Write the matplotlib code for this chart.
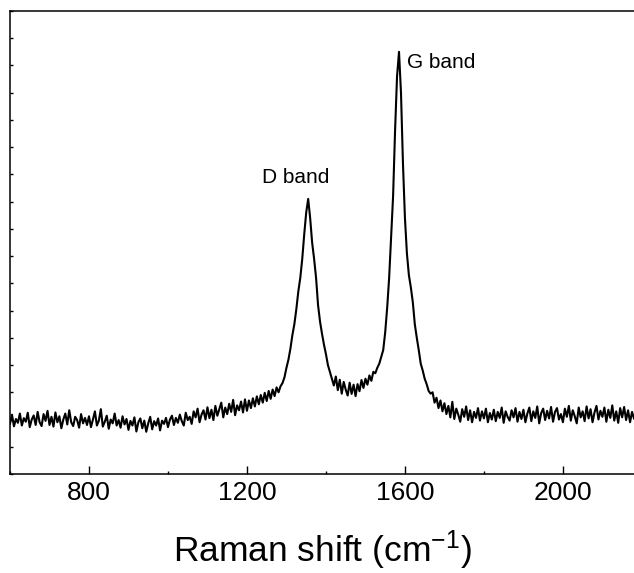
import numpy as np
import matplotlib
matplotlib.use("Agg")
import matplotlib.pyplot as plt
from matplotlib.ticker import MultipleLocator, NullFormatter

plt.rcParams["font.family"] = ["Liberation Sans", "DejaVu Sans"]
plt.rcParams["mathtext.fontset"] = "custom"
plt.rcParams["mathtext.rm"] = "Liberation Sans"
plt.rcParams["mathtext.it"] = "Liberation Sans:italic"

# Raman shift grid (cm^-1), one reading every 5 cm^-1
shift = np.arange(600, 2181, 5)

# Intensity (arb. units), one row per 100 cm^-1
intensity = [
    # 600
    1.85, 2.18, 1.75, 2.02, 1.88, 2.22, 1.78, 2.05, 1.92, 2.25,
    1.72, 2.00, 2.15, 1.80, 2.28, 1.90, 1.76, 2.20, 1.95, 2.32,
    # 700
    1.80, 2.10, 1.74, 2.26, 1.90, 2.12, 1.68, 2.00, 2.22, 1.82,
    2.34, 1.90, 1.76, 2.10, 1.98, 1.70, 2.20, 1.86, 2.06, 1.80,
    # 800
    2.12, 1.72, 2.00, 2.30, 1.78, 1.96, 2.38, 1.74, 1.92, 2.14,
    1.66, 2.00, 1.86, 2.22, 1.78, 1.98, 1.70, 2.12, 1.82, 2.02,
    # 900
    1.62, 1.95, 1.78, 2.08, 1.56, 1.90, 2.04, 1.68, 1.96, 1.55,
    1.86, 2.10, 1.64, 1.94, 1.78, 2.04, 1.60, 1.96, 1.84, 2.06,
    # 1000
    1.72, 2.00, 2.14, 1.80, 2.06, 1.88, 2.18, 1.94, 1.78, 2.25,
    1.98, 2.10, 1.84, 2.30, 2.08, 2.40, 1.90, 2.18, 2.34, 2.00,
    # 1100
    2.45, 2.05, 2.36, 1.98, 2.50, 2.14, 2.38, 2.62, 2.08, 2.44,
    2.20, 2.58, 2.28, 2.72, 2.16, 2.52, 2.34, 2.66, 2.26, 2.74,
    # 1200
    2.32, 2.70, 2.42, 2.78, 2.48, 2.85, 2.56, 2.90, 2.62, 2.98,
    2.68, 3.05, 2.76, 3.10, 2.86, 3.18, 3.00, 3.22, 3.34, 3.55,
    # 1300 - D band
    3.90, 4.20, 4.60, 5.10, 5.50, 6.05, 6.70, 7.20, 7.90, 8.80,
    9.60, 10.10, 9.40, 8.50, 7.90, 7.20, 6.20, 5.60, 5.15, 4.75,
    # 1400
    4.40, 4.00, 3.75, 3.50, 3.25, 3.58, 3.08, 3.46, 2.95, 3.38,
    3.10, 2.88, 3.35, 2.94, 3.28, 2.86, 3.30, 3.04, 3.45, 3.16,
    # 1500 - G band
    3.50, 3.28, 3.62, 3.42, 3.75, 3.70, 3.90, 4.05, 4.30, 4.55,
    5.20, 6.10, 7.20, 8.70, 10.20, 12.60, 14.60, 15.50, 14.00, 11.40,
    # 1600
    9.40, 8.10, 7.30, 6.85, 6.30, 5.50, 5.00, 4.55, 4.05, 3.80,
    3.50, 3.30, 3.05, 2.95, 3.00, 2.62, 2.80, 2.42, 2.70, 2.30,
    # 1700
    2.60, 2.20, 2.50, 2.08, 2.65, 2.02, 2.40, 2.18, 1.92, 2.38,
    2.10, 2.48, 1.98, 2.34, 1.90, 2.28, 2.06, 2.42, 1.96, 2.30,
    # 1800
    2.04, 2.40, 1.90, 2.24, 2.00, 2.36, 1.94, 2.28, 2.06, 2.44,
    1.88, 2.30, 2.10, 1.96, 2.34, 2.08, 2.42, 1.92, 2.28, 2.02,
    # 1900
    2.36, 1.90, 2.22, 2.44, 1.94, 2.30, 2.06, 2.48, 1.86, 2.24,
    2.40, 1.98, 2.32, 2.04, 2.46, 1.92, 2.28, 2.42, 2.00, 2.20,
    # 2000
    1.90, 2.40, 2.10, 2.50, 1.96, 2.34, 2.12, 1.86, 2.44, 2.08,
    2.30, 1.94, 2.48, 2.04, 2.38, 1.90, 2.26, 2.50, 2.00, 2.32,
    # 2100
    2.10, 2.44, 1.92, 2.36, 2.06, 2.52, 1.96, 2.30, 1.88, 2.42,
    2.08, 2.46, 1.98, 2.34, 1.90, 2.28, 2.04,
]

band_names = ["D band", "G band"]
band_label_x = [1324, 1605]
band_label_y = [10.9, 15.1]

fig = plt.figure(figsize=(6.34, 5.73), dpi=100)
ax = fig.add_axes([10 / 634, 99 / 573, 624 / 634, 463 / 573])

ax.plot(shift, intensity, color="black", lw=1.5)

ax.set_xlim(600, 2180)
ax.set_ylim(0, 17)

ax.xaxis.set_major_locator(MultipleLocator(400))
ax.xaxis.set_minor_locator(MultipleLocator(200))
ax.yaxis.set_major_locator(MultipleLocator(1))
ax.yaxis.set_major_formatter(NullFormatter())

ax.tick_params(axis="x", which="major", direction="in", length=6, width=1.0,
               labelsize=19, pad=5)
ax.tick_params(axis="x", which="minor", direction="in", length=2.5, width=1.0)
ax.tick_params(axis="y", which="major", direction="in", length=2.5, width=1.0)

ax.spines["right"].set_visible(False)
for side in ("left", "top", "bottom"):
    ax.spines[side].set_linewidth(1.1)

ax.set_xlabel("Raman shift (cm$^{-1}$)", fontsize=25.5, labelpad=17)

ax.text(band_label_x[0], band_label_y[0], band_names[0], fontsize=15,
        ha="center", va="center")
ax.text(band_label_x[1], band_label_y[1], band_names[1], fontsize=15,
        ha="left", va="center")

fig.savefig("out.png", dpi=100)
